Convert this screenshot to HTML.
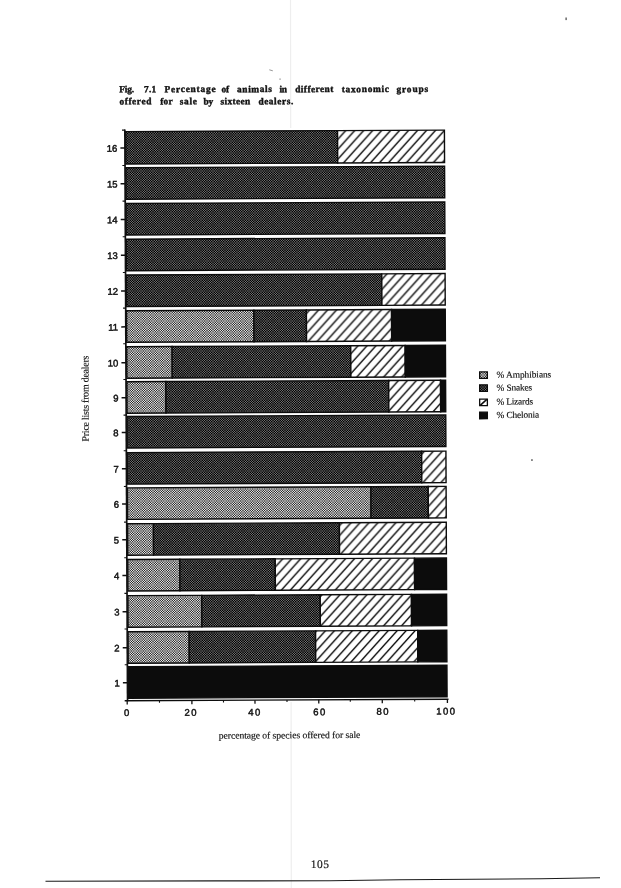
<!DOCTYPE html>
<html lang="en"><head><meta charset="utf-8"><title>Fig. 7.1</title>
<style>
html,body{margin:0;padding:0;background:#fff;}
body{width:621px;height:888px;overflow:hidden;position:relative;}
svg{position:absolute;left:0;top:0;display:block;}
.sans{font-family:"Liberation Sans",Arial,Helvetica,sans-serif;font-size:9.5px;fill:#111;stroke:#111;stroke-width:0.45px;}
.serif{font-family:"Liberation Serif","Times New Roman",Times,serif;fill:#111;stroke:#111;stroke-width:0.15px;}
.title{font-weight:bold;font-size:9.4px;stroke:#111;stroke-width:0.4px;}
.xl{font-size:9.7px;}
.yl{font-size:9.9px;}
.lg{font-size:9.4px;}
.pn{font-size:11.5px;}
</style></head><body>
<svg width="621" height="888" viewBox="0 0 621 888">
<defs>
<pattern id="ps" width="12" height="12" patternUnits="userSpaceOnUse" patternTransform="rotate(0.27 286 415)"><rect width="12" height="12" fill="#000"/><path fill="#222" d="M8 0h1v1h-1zM9 0h1v1h-1zM2 1h1v1h-1zM3 1h1v1h-1zM1 2h1v1h-1zM4 2h1v1h-1zM6 2h1v1h-1zM11 2h1v1h-1zM1 3h1v1h-1zM4 3h1v1h-1zM6 3h1v1h-1zM11 3h1v1h-1zM2 4h1v1h-1zM3 4h1v1h-1zM8 5h1v1h-1zM9 5h1v1h-1zM2 6h1v1h-1zM3 6h1v1h-1zM8 7h1v1h-1zM9 7h1v1h-1zM0 8h1v1h-1zM5 8h1v1h-1zM7 8h1v1h-1zM10 8h1v1h-1zM0 9h1v1h-1zM5 9h1v1h-1zM7 9h1v1h-1zM10 9h1v1h-1zM8 10h1v1h-1zM9 10h1v1h-1zM2 11h1v1h-1zM3 11h1v1h-1z"/><path fill="#333" d="M2 2h1v1h-1zM3 2h1v1h-1zM8 2h1v1h-1zM9 2h1v1h-1zM2 3h1v1h-1zM3 3h1v1h-1zM8 3h1v1h-1zM9 3h1v1h-1zM2 8h1v1h-1zM3 8h1v1h-1zM8 8h1v1h-1zM9 8h1v1h-1zM2 9h1v1h-1zM3 9h1v1h-1zM8 9h1v1h-1zM9 9h1v1h-1z"/><path fill="#444" d="M2 0h1v1h-1zM3 0h1v1h-1zM8 1h1v1h-1zM9 1h1v1h-1zM0 2h1v1h-1zM5 2h1v1h-1zM7 2h1v1h-1zM10 2h1v1h-1zM0 3h1v1h-1zM5 3h1v1h-1zM7 3h1v1h-1zM10 3h1v1h-1zM8 4h1v1h-1zM9 4h1v1h-1zM2 5h1v1h-1zM3 5h1v1h-1zM8 6h1v1h-1zM9 6h1v1h-1zM2 7h1v1h-1zM3 7h1v1h-1zM1 8h1v1h-1zM4 8h1v1h-1zM6 8h1v1h-1zM11 8h1v1h-1zM1 9h1v1h-1zM4 9h1v1h-1zM6 9h1v1h-1zM11 9h1v1h-1zM2 10h1v1h-1zM3 10h1v1h-1zM8 11h1v1h-1zM9 11h1v1h-1z"/><path fill="#555" d="M1 1h1v1h-1zM4 1h1v1h-1zM1 4h1v1h-1zM4 4h1v1h-1zM7 7h1v1h-1zM10 7h1v1h-1zM7 10h1v1h-1zM10 10h1v1h-1z"/><path fill="#666" d="M7 0h1v1h-1zM10 0h1v1h-1zM6 1h1v1h-1zM11 1h1v1h-1zM6 4h1v1h-1zM11 4h1v1h-1zM7 5h1v1h-1zM10 5h1v1h-1zM1 6h1v1h-1zM4 6h1v1h-1zM0 7h1v1h-1zM5 7h1v1h-1zM0 10h1v1h-1zM5 10h1v1h-1zM1 11h1v1h-1zM4 11h1v1h-1z"/><path fill="#777" d="M0 0h1v1h-1zM5 0h1v1h-1zM0 5h1v1h-1zM5 5h1v1h-1zM6 6h1v1h-1zM11 6h1v1h-1zM6 11h1v1h-1zM11 11h1v1h-1z"/></pattern>
<pattern id="pa" width="12" height="12" patternUnits="userSpaceOnUse" patternTransform="rotate(0.27 286 415)"><rect width="12" height="12" fill="#999"/><path fill="#222" d="M6 0h1v1h-1zM11 0h1v1h-1zM6 5h1v1h-1zM11 5h1v1h-1zM0 6h1v1h-1zM5 6h1v1h-1zM0 11h1v1h-1zM5 11h1v1h-1z"/><path fill="#333" d="M1 0h1v1h-1zM4 0h1v1h-1zM0 1h1v1h-1zM5 1h1v1h-1zM0 4h1v1h-1zM5 4h1v1h-1zM1 5h1v1h-1zM4 5h1v1h-1zM7 6h1v1h-1zM10 6h1v1h-1zM6 7h1v1h-1zM11 7h1v1h-1zM6 10h1v1h-1zM11 10h1v1h-1zM7 11h1v1h-1zM10 11h1v1h-1z"/><path fill="#555" d="M7 1h1v1h-1zM10 1h1v1h-1zM7 4h1v1h-1zM10 4h1v1h-1zM1 7h1v1h-1zM4 7h1v1h-1zM1 10h1v1h-1zM4 10h1v1h-1z"/><path fill="#666" d="M8 0h1v1h-1zM9 0h1v1h-1zM6 2h1v1h-1zM11 2h1v1h-1zM6 3h1v1h-1zM11 3h1v1h-1zM8 5h1v1h-1zM9 5h1v1h-1zM2 6h1v1h-1zM3 6h1v1h-1zM0 8h1v1h-1zM5 8h1v1h-1zM0 9h1v1h-1zM5 9h1v1h-1zM2 11h1v1h-1zM3 11h1v1h-1z"/><path fill="#777" d="M2 1h1v1h-1zM3 1h1v1h-1zM1 2h1v1h-1zM4 2h1v1h-1zM1 3h1v1h-1zM4 3h1v1h-1zM2 4h1v1h-1zM3 4h1v1h-1zM8 7h1v1h-1zM9 7h1v1h-1zM7 8h1v1h-1zM10 8h1v1h-1zM7 9h1v1h-1zM10 9h1v1h-1zM8 10h1v1h-1zM9 10h1v1h-1z"/><path fill="#888" d="M8 2h1v1h-1zM9 2h1v1h-1zM8 3h1v1h-1zM9 3h1v1h-1zM2 8h1v1h-1zM3 8h1v1h-1zM2 9h1v1h-1zM3 9h1v1h-1z"/><path fill="#aaa" d="M2 0h1v1h-1zM3 0h1v1h-1zM0 2h1v1h-1zM5 2h1v1h-1zM0 3h1v1h-1zM5 3h1v1h-1zM2 5h1v1h-1zM3 5h1v1h-1zM8 6h1v1h-1zM9 6h1v1h-1zM6 8h1v1h-1zM11 8h1v1h-1zM6 9h1v1h-1zM11 9h1v1h-1zM8 11h1v1h-1zM9 11h1v1h-1z"/><path fill="#bbb" d="M10 10h1v1h-1z"/><path fill="#ccc" d="M1 1h1v1h-1zM4 1h1v1h-1zM1 4h1v1h-1zM4 4h1v1h-1zM7 7h1v1h-1zM10 7h1v1h-1zM7 10h1v1h-1z"/><path fill="#ddd" d="M7 0h1v1h-1zM10 0h1v1h-1zM6 1h1v1h-1zM11 1h1v1h-1zM6 4h1v1h-1zM11 4h1v1h-1zM7 5h1v1h-1zM10 5h1v1h-1zM1 6h1v1h-1zM4 6h1v1h-1zM0 7h1v1h-1zM5 7h1v1h-1zM0 10h1v1h-1zM5 10h1v1h-1zM1 11h1v1h-1zM4 11h1v1h-1z"/><path fill="#eee" d="M0 0h1v1h-1zM5 0h1v1h-1zM0 5h1v1h-1zM5 5h1v1h-1zM6 6h1v1h-1zM11 6h1v1h-1zM6 11h1v1h-1zM11 11h1v1h-1z"/></pattern>
<pattern id="pl" width="9" height="9.9" patternUnits="userSpaceOnUse" patternTransform="translate(7 0)"><rect width="9" height="9.9" fill="#fff"/><path d="M-1 11L10 -1.1M-1 1.1L1 -1.1M8 11L10 8.8" stroke="#0a0a0a" stroke-width="1.45" fill="none"/></pattern>
</defs>
<rect width="621" height="888" fill="#fff"/>
<path d="M290.5 0L290.7 128M291.1 702L291.3 888" stroke="#eeeeee" stroke-width="1.2" fill="none"/>

<g transform="rotate(-0.27 286 415)">
<text class="serif title" x="120.81" y="91.42" letter-spacing="-0.200">Fig.</text>
<text class="serif title" x="145.42" y="91.53" letter-spacing="0.334">7.1</text>
<text class="serif title" x="166.12" y="91.63" letter-spacing="0.765">Percentage</text>
<text class="serif title" x="223.08" y="91.90" letter-spacing="-0.200">of</text>
<text class="serif title" x="238.62" y="91.97" letter-spacing="0.582">animals</text>
<text class="serif title" x="280.97" y="92.17" letter-spacing="-0.200">in</text>
<text class="serif title" x="296.72" y="92.25" letter-spacing="0.426">different</text>
<text class="serif title" x="343.32" y="92.47" letter-spacing="0.687">taxonomic</text>
<text class="serif title" x="397.92" y="92.72" letter-spacing="0.881">groups</text>
<text class="serif title" x="120.87" y="103.62" letter-spacing="0.592">offered</text>
<text class="serif title" x="161.67" y="103.81" letter-spacing="0.295">for</text>
<text class="serif title" x="181.16" y="103.90" letter-spacing="0.720">sale</text>
<text class="serif title" x="204.91" y="104.02" letter-spacing="-0.200">by</text>
<text class="serif title" x="221.96" y="104.09" letter-spacing="0.353">sixteen</text>
<text class="serif title" x="259.86" y="104.27" letter-spacing="0.552">dealers.</text>
<rect x="127.05" y="130.85" width="211.85" height="32.40" fill="url(#ps)" stroke="#0c0c0c" stroke-width="1.4"/>
<rect x="338.90" y="130.85" width="106.85" height="32.40" fill="url(#pl)" stroke="#0c0c0c" stroke-width="1.4"/>
<rect x="121.65" y="146.45" width="4.7" height="1.5" fill="#111"/>
<text class="sans" x="118.55" y="150.90" text-anchor="end">16</text>
<rect x="123.55" y="164.18" width="2.8" height="1.1" fill="#111"/>
<rect x="127.05" y="167.01" width="318.70" height="31.50" fill="url(#ps)" stroke="#0c0c0c" stroke-width="1.4"/>
<rect x="121.65" y="182.31" width="4.7" height="1.5" fill="#111"/>
<text class="sans" x="118.55" y="186.76" text-anchor="end">15</text>
<rect x="123.55" y="199.84" width="2.8" height="1.1" fill="#111"/>
<rect x="127.05" y="202.72" width="318.70" height="31.50" fill="url(#ps)" stroke="#0c0c0c" stroke-width="1.4"/>
<rect x="121.65" y="218.02" width="4.7" height="1.5" fill="#111"/>
<text class="sans" x="118.55" y="222.47" text-anchor="end">14</text>
<rect x="123.55" y="235.50" width="2.8" height="1.1" fill="#111"/>
<rect x="127.05" y="238.43" width="318.70" height="31.50" fill="url(#ps)" stroke="#0c0c0c" stroke-width="1.4"/>
<rect x="121.65" y="253.73" width="4.7" height="1.5" fill="#111"/>
<text class="sans" x="118.55" y="258.18" text-anchor="end">13</text>
<rect x="123.55" y="271.16" width="2.8" height="1.1" fill="#111"/>
<rect x="127.05" y="274.29" width="255.38" height="31.50" fill="url(#ps)" stroke="#0c0c0c" stroke-width="1.4"/>
<rect x="382.43" y="274.29" width="63.32" height="31.50" fill="url(#pl)" stroke="#0c0c0c" stroke-width="1.4"/>
<rect x="121.65" y="289.59" width="4.7" height="1.5" fill="#111"/>
<text class="sans" x="118.55" y="294.04" text-anchor="end">12</text>
<rect x="123.55" y="306.82" width="2.8" height="1.1" fill="#111"/>
<rect x="127.05" y="310.05" width="127.34" height="31.50" fill="url(#pa)" stroke="#0c0c0c" stroke-width="1.4"/>
<rect x="254.39" y="310.05" width="52.50" height="31.50" fill="url(#ps)" stroke="#0c0c0c" stroke-width="1.4"/>
<rect x="306.89" y="310.05" width="85.15" height="31.50" fill="url(#pl)" stroke="#0c0c0c" stroke-width="1.4"/>
<rect x="392.03" y="310.05" width="53.72" height="31.50" fill="#0c0c0c" stroke="#0c0c0c" stroke-width="1.4"/>
<rect x="121.65" y="325.35" width="4.7" height="1.5" fill="#111"/>
<text class="sans" x="118.55" y="329.80" text-anchor="end">11</text>
<rect x="123.55" y="342.48" width="2.8" height="1.1" fill="#111"/>
<rect x="127.05" y="346.01" width="45.39" height="31.50" fill="url(#pa)" stroke="#0c0c0c" stroke-width="1.4"/>
<rect x="172.44" y="346.01" width="178.62" height="31.50" fill="url(#ps)" stroke="#0c0c0c" stroke-width="1.4"/>
<rect x="351.06" y="346.01" width="54.42" height="31.50" fill="url(#pl)" stroke="#0c0c0c" stroke-width="1.4"/>
<rect x="405.48" y="346.01" width="40.27" height="31.50" fill="#0c0c0c" stroke="#0c0c0c" stroke-width="1.4"/>
<rect x="121.65" y="361.31" width="4.7" height="1.5" fill="#111"/>
<text class="sans" x="118.55" y="365.76" text-anchor="end">10</text>
<rect x="123.55" y="378.14" width="2.8" height="1.1" fill="#111"/>
<rect x="127.05" y="380.97" width="38.99" height="31.50" fill="url(#pa)" stroke="#0c0c0c" stroke-width="1.4"/>
<rect x="166.04" y="380.97" width="222.79" height="31.50" fill="url(#ps)" stroke="#0c0c0c" stroke-width="1.4"/>
<rect x="388.83" y="380.97" width="51.86" height="31.50" fill="url(#pl)" stroke="#0c0c0c" stroke-width="1.4"/>
<rect x="440.69" y="380.97" width="5.06" height="31.50" fill="#0c0c0c" stroke="#0c0c0c" stroke-width="1.4"/>
<rect x="121.65" y="396.27" width="4.7" height="1.5" fill="#111"/>
<text class="sans" x="118.55" y="400.72" text-anchor="end">9</text>
<rect x="123.55" y="413.80" width="2.8" height="1.1" fill="#111"/>
<rect x="127.05" y="415.73" width="318.70" height="31.50" fill="url(#ps)" stroke="#0c0c0c" stroke-width="1.4"/>
<rect x="121.65" y="431.03" width="4.7" height="1.5" fill="#111"/>
<text class="sans" x="118.55" y="435.48" text-anchor="end">8</text>
<rect x="123.55" y="449.46" width="2.8" height="1.1" fill="#111"/>
<rect x="127.05" y="451.89" width="294.43" height="31.50" fill="url(#ps)" stroke="#0c0c0c" stroke-width="1.4"/>
<rect x="421.48" y="451.89" width="24.27" height="31.50" fill="url(#pl)" stroke="#0c0c0c" stroke-width="1.4"/>
<rect x="121.65" y="467.19" width="4.7" height="1.5" fill="#111"/>
<text class="sans" x="118.55" y="471.64" text-anchor="end">7</text>
<rect x="123.55" y="485.12" width="2.8" height="1.1" fill="#111"/>
<rect x="127.05" y="487.15" width="243.54" height="31.50" fill="url(#pa)" stroke="#0c0c0c" stroke-width="1.4"/>
<rect x="370.59" y="487.15" width="57.30" height="31.50" fill="url(#ps)" stroke="#0c0c0c" stroke-width="1.4"/>
<rect x="427.88" y="487.15" width="17.87" height="31.50" fill="url(#pl)" stroke="#0c0c0c" stroke-width="1.4"/>
<rect x="121.65" y="502.45" width="4.7" height="1.5" fill="#111"/>
<text class="sans" x="118.55" y="506.90" text-anchor="end">6</text>
<rect x="123.55" y="520.78" width="2.8" height="1.1" fill="#111"/>
<rect x="127.05" y="523.01" width="25.87" height="31.50" fill="url(#pa)" stroke="#0c0c0c" stroke-width="1.4"/>
<rect x="152.92" y="523.01" width="185.98" height="31.50" fill="url(#ps)" stroke="#0c0c0c" stroke-width="1.4"/>
<rect x="338.90" y="523.01" width="106.85" height="31.50" fill="url(#pl)" stroke="#0c0c0c" stroke-width="1.4"/>
<rect x="121.65" y="538.31" width="4.7" height="1.5" fill="#111"/>
<text class="sans" x="118.55" y="542.76" text-anchor="end">5</text>
<rect x="123.55" y="556.44" width="2.8" height="1.1" fill="#111"/>
<rect x="127.05" y="558.77" width="52.12" height="31.50" fill="url(#pa)" stroke="#0c0c0c" stroke-width="1.4"/>
<rect x="179.17" y="558.77" width="95.39" height="31.50" fill="url(#ps)" stroke="#0c0c0c" stroke-width="1.4"/>
<rect x="274.56" y="558.77" width="139.24" height="31.50" fill="url(#pl)" stroke="#0c0c0c" stroke-width="1.4"/>
<rect x="413.80" y="558.77" width="31.95" height="31.50" fill="#0c0c0c" stroke="#0c0c0c" stroke-width="1.4"/>
<rect x="121.65" y="574.07" width="4.7" height="1.5" fill="#111"/>
<text class="sans" x="118.55" y="578.52" text-anchor="end">4</text>
<rect x="123.55" y="592.10" width="2.8" height="1.1" fill="#111"/>
<rect x="127.05" y="594.93" width="73.88" height="31.50" fill="url(#pa)" stroke="#0c0c0c" stroke-width="1.4"/>
<rect x="200.93" y="594.93" width="118.44" height="31.50" fill="url(#ps)" stroke="#0c0c0c" stroke-width="1.4"/>
<rect x="319.37" y="594.93" width="91.23" height="31.50" fill="url(#pl)" stroke="#0c0c0c" stroke-width="1.4"/>
<rect x="410.60" y="594.93" width="35.15" height="31.50" fill="#0c0c0c" stroke="#0c0c0c" stroke-width="1.4"/>
<rect x="121.65" y="610.23" width="4.7" height="1.5" fill="#111"/>
<text class="sans" x="118.55" y="614.68" text-anchor="end">3</text>
<rect x="123.55" y="627.76" width="2.8" height="1.1" fill="#111"/>
<rect x="127.05" y="630.99" width="61.08" height="31.50" fill="url(#pa)" stroke="#0c0c0c" stroke-width="1.4"/>
<rect x="188.13" y="630.99" width="126.44" height="31.50" fill="url(#ps)" stroke="#0c0c0c" stroke-width="1.4"/>
<rect x="314.57" y="630.99" width="102.11" height="31.50" fill="url(#pl)" stroke="#0c0c0c" stroke-width="1.4"/>
<rect x="416.68" y="630.99" width="29.07" height="31.50" fill="#0c0c0c" stroke="#0c0c0c" stroke-width="1.4"/>
<rect x="121.65" y="646.29" width="4.7" height="1.5" fill="#111"/>
<text class="sans" x="118.55" y="650.74" text-anchor="end">2</text>
<rect x="123.55" y="663.42" width="2.8" height="1.1" fill="#111"/>
<rect x="127.05" y="665.95" width="318.70" height="31.50" fill="#0c0c0c" stroke="#0c0c0c" stroke-width="1.4"/>
<rect x="121.65" y="681.25" width="4.7" height="1.5" fill="#111"/>
<text class="sans" x="118.55" y="685.70" text-anchor="end">1</text>
<rect x="125.35" y="128.85" width="1.7" height="571.75" fill="#111"/>
<rect x="123.35" y="128.85" width="3.0" height="1.1" fill="#111"/>
<rect x="123.35" y="699.30" width="323.80" height="1.4" fill="#0c0c0c"/>
<rect x="125.19" y="700.00" width="1.3" height="3.7" fill="#111"/>
<text class="sans" x="125.95" y="715.30" text-anchor="middle" letter-spacing="1.5">0</text>
<rect x="157.59" y="700.00" width="1.1" height="2.1" fill="#111"/>
<rect x="189.89" y="700.00" width="1.3" height="3.7" fill="#111"/>
<text class="sans" x="189.95" y="715.30" text-anchor="middle" letter-spacing="1.5">20</text>
<rect x="221.59" y="700.00" width="1.1" height="2.1" fill="#111"/>
<rect x="252.99" y="700.00" width="1.3" height="3.7" fill="#111"/>
<text class="sans" x="253.55" y="715.30" text-anchor="middle" letter-spacing="1.5">40</text>
<rect x="285.10" y="700.00" width="1.1" height="2.1" fill="#111"/>
<rect x="316.80" y="700.00" width="1.3" height="3.7" fill="#111"/>
<text class="sans" x="318.65" y="715.30" text-anchor="middle" letter-spacing="1.5">60</text>
<rect x="348.40" y="700.00" width="1.1" height="2.1" fill="#111"/>
<rect x="380.30" y="700.00" width="1.3" height="3.7" fill="#111"/>
<text class="sans" x="381.85" y="715.30" text-anchor="middle" letter-spacing="1.5">80</text>
<rect x="412.80" y="700.00" width="1.1" height="2.1" fill="#111"/>
<rect x="445.40" y="700.00" width="1.3" height="3.7" fill="#111"/>
<text class="sans" x="445.05" y="715.30" text-anchor="middle" letter-spacing="1.5">100</text>
<text class="serif xl" x="217.28" y="738.38" letter-spacing="-0.074">percentage of species offered for sale</text>
<text class="serif yl" transform="translate(88.68 440.57) rotate(-90)" letter-spacing="-0.214">Price lists from dealers</text>
<rect x="479.85" y="372.86" width="7.70" height="6.50" stroke="#0c0c0c" stroke-width="1.3" fill="url(#pa)"/>
<text class="serif lg" x="496.77" y="378.79" letter-spacing="-0.076">% Amphibians</text>
<rect x="479.79" y="385.76" width="7.70" height="6.50" stroke="#0c0c0c" stroke-width="1.3" fill="url(#ps)"/>
<text class="serif lg" x="496.71" y="391.69" letter-spacing="-0.166">% Snakes</text>
<rect x="479.73" y="400.06" width="7.70" height="6.50" stroke="#0c0c0c" stroke-width="1.3" fill="#fff"/>
<path d="M480.28 406.21L486.88 400.41" stroke="#0c0c0c" stroke-width="1.6"/>
<text class="serif lg" x="496.49" y="405.69" letter-spacing="-0.200">% Lizards</text>
<rect x="479.66" y="413.16" width="7.70" height="6.50" stroke="#0c0c0c" stroke-width="1.3" fill="#0c0c0c"/>
<text class="serif lg" x="496.58" y="418.99" letter-spacing="-0.160">% Chelonia</text>
<text class="serif pn" x="308.66" y="868.22" letter-spacing="0.450">105</text>
</g>
<path d="M45.5 881.3L216 880.9L330 880.7L400 879.8L541 878.7L600 877.7" stroke="#1a1a1a" stroke-width="1.1" fill="none"/>
<rect x="565.5" y="17.5" width="1.2" height="2.6" fill="#444"/>
<path d="M269.3 69.8L272.8 70.8" stroke="#8a8a8a" stroke-width="0.9"/>
<rect x="279.3" y="78.6" width="1.5" height="1" fill="#888"/>
<rect x="531.2" y="459.3" width="1.5" height="1.5" fill="#444"/>
</svg>
</body></html>
